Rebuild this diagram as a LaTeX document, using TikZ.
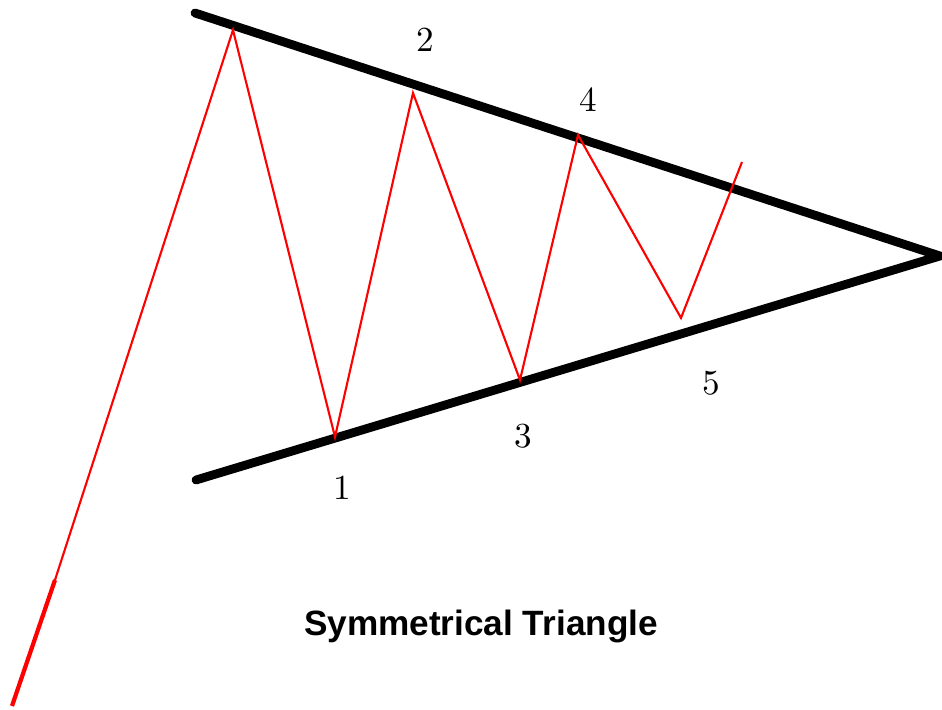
\documentclass[tikz,border=0pt]{standalone}
\usepackage{fontspec}
\newfontfamily\labelfont{Liberation Sans}
\begin{document}
\begin{tikzpicture}[x=0.01cm, y=-0.01cm,
    trendline/.style={line width=2.5pt, line cap=round},
    price/.style={red, line width=0.6pt, line join=miter},
    swing/.style={font=\fontsize{10}{12}\selectfont}]
    \useasboundingbox (0,0) rectangle (942,710);
    % Triangle boundaries
    \coordinate (T) at (195,13);
    \coordinate (B) at (196,480);
    \coordinate (apex) at (940,256);
    \draw[trendline] (T) -- (apex) -- (B);
    % Price path
    \coordinate (start) at (12,706);
    \coordinate (knee) at (55,580);
    \coordinate (top) at (233,30);
    \coordinate (p1) at (335,437);
    \coordinate (p2) at (413,93);
    \coordinate (p3) at (520,380);
    \coordinate (p4) at (578,135);
    \coordinate (p5) at (681,318);
    \coordinate (end) at (742,162);
    \draw[red, line width=1.2pt] (start) -- (knee);
    \draw[price] (knee) -- (top) -- (p1) -- (p2) -- (p3) -- (p4) -- (p5) -- (end);
    % Swing labels
    \node[swing] (l1) at (342,488) {1};
    \node[swing] (l2) at (425,40) {2};
    \node[swing] (l3) at (523,436) {3};
    \node[swing] (l4) at (588,100) {4};
    \node[swing] (l5) at (711,383) {5};
    \node[font=\labelfont\bfseries\fontsize{10}{12}\selectfont] (title) at (481,626) {Symmetrical Triangle};
\end{tikzpicture}
\end{document}
